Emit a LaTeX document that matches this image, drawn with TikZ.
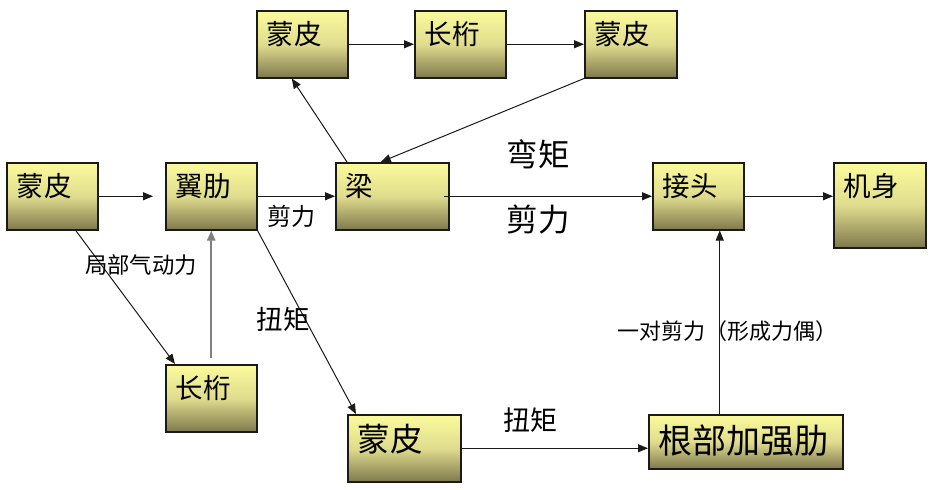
\documentclass[tikz,border=0pt]{standalone}
\usepackage{fontspec}
\newfontfamily\cjk{Noto Sans CJK SC}
\usetikzlibrary{arrows.meta}
\definecolor{boxtop}{HTML}{FBFB9C}
\definecolor{boxmid}{HTML}{E0DC8E}
\definecolor{boxbot}{HTML}{7E794D}
\definecolor{ink}{HTML}{1A1A1A}
\definecolor{greyline}{HTML}{808080}

\begin{document}
\begin{tikzpicture}[
  x=0.6pt, y=-0.6pt,
  box/.style={draw=ink, line width=0.9pt, anchor=north west, align=left,
    top color=boxtop, bottom color=boxbot, middle color=boxmid,
    inner xsep=6pt, inner ysep=0pt, text height=20.1pt, text depth=20.1pt,
    text width=42.6pt, font=\cjk\fontsize{16.5pt}{16.5pt}\selectfont},
  lbl/.style={inner sep=0pt, font=\cjk\fontsize{#1}{#1}\selectfont},
  flow/.style={-{Triangle[length=6pt,width=4.8pt]}, line width=0.6pt, draw=ink},
  gflow/.style={flow, draw=greyline, line width=1.3pt},
]
\useasboundingbox (0,0) rectangle (934,489);

% ---------- top row ----------
\node[box] (skinA) at (256,10) {蒙皮};
\node[box] (strA)  at (414,10) {长桁};
\node[box, text width=43.2pt] (skinB) at (584,10) {蒙皮};

% ---------- middle row ----------
\node[box] (skinL) at (6,162)   {蒙皮};
\node[box] (rib)   at (165,162) {翼肋};
\node[box, text width=55.8pt] (spar) at (335,162) {梁};
\node[box] (joint) at (652,162) {接头};
\node[box, text width=43.2pt, text depth=30.9pt] (body) at (833,162) {机身};

% ---------- bottom row ----------
\node[box] (strB) at (165,364) {长桁};
\node[box, text width=55.8pt, text height=21.8pt, text depth=18.4pt,
  font=\cjk\fontsize{19.5pt}{19.5pt}\selectfont] (skinC) at (347,414) {蒙皮};
\node[box, text width=104.4pt, text height=23.4pt, text depth=9pt,
  font=\cjk\fontsize{20.4pt}{20.4pt}\selectfont] (root) at (648,414) {根部加强肋};

\coordinate (jfoot) at ([xshift=12.9pt]joint.south);

% ---------- edges ----------
\draw[flow] (skinA.east) -- (strA.west);
\draw[flow] (strA.east) -- (skinB.west);
\draw[flow] (skinB.south west) -- ([xshift=-6.9pt]spar.north);
\draw[flow] ([xshift=7.2pt]spar.north west) -- ([xshift=-6.3pt]skinA.south);

\draw[flow, shorten >=7.2pt] (skinL.east) -- (rib.west);
\draw[flow] (rib.east) -- (spar.west);
\draw[flow, shorten <=-3.6pt] (spar.east) -- (joint.west);
\draw[flow] (joint.east) -- (joint.east -| body.west);

\draw[flow] ([xshift=14.1pt]skinL.south) -- ([xshift=6pt]strB.north west);
\draw[gflow, shorten <=3.6pt] (strB.north) -- (rib.south);
\draw[flow] (rib.south east) -- ([xshift=5.4pt]skinC.north west);
\draw[flow] (skinC.east) -- (skinC.east -| root.west);
\draw[flow] (root.north -| jfoot) -- (jfoot);

% ---------- labels ----------
\node[lbl=14.4pt] (shearA) at (291,216) {剪力};
\node[lbl=13.4pt] (aero)   at (141,265) {局部气动力};
\node[lbl=15.9pt] (torqA)  at (283,319) {扭矩};
\node[lbl=18.9pt] (bend)   at (538,154) {弯矩};
\node[lbl=18.9pt] (shearB) at (538,220) {剪力};
\node[lbl=16.2pt] (torqB)  at (530,420) {扭矩};
\node[lbl=13.2pt] (couple) at (727,331) {一对剪力（形成力偶）};

\end{tikzpicture}
\end{document}
